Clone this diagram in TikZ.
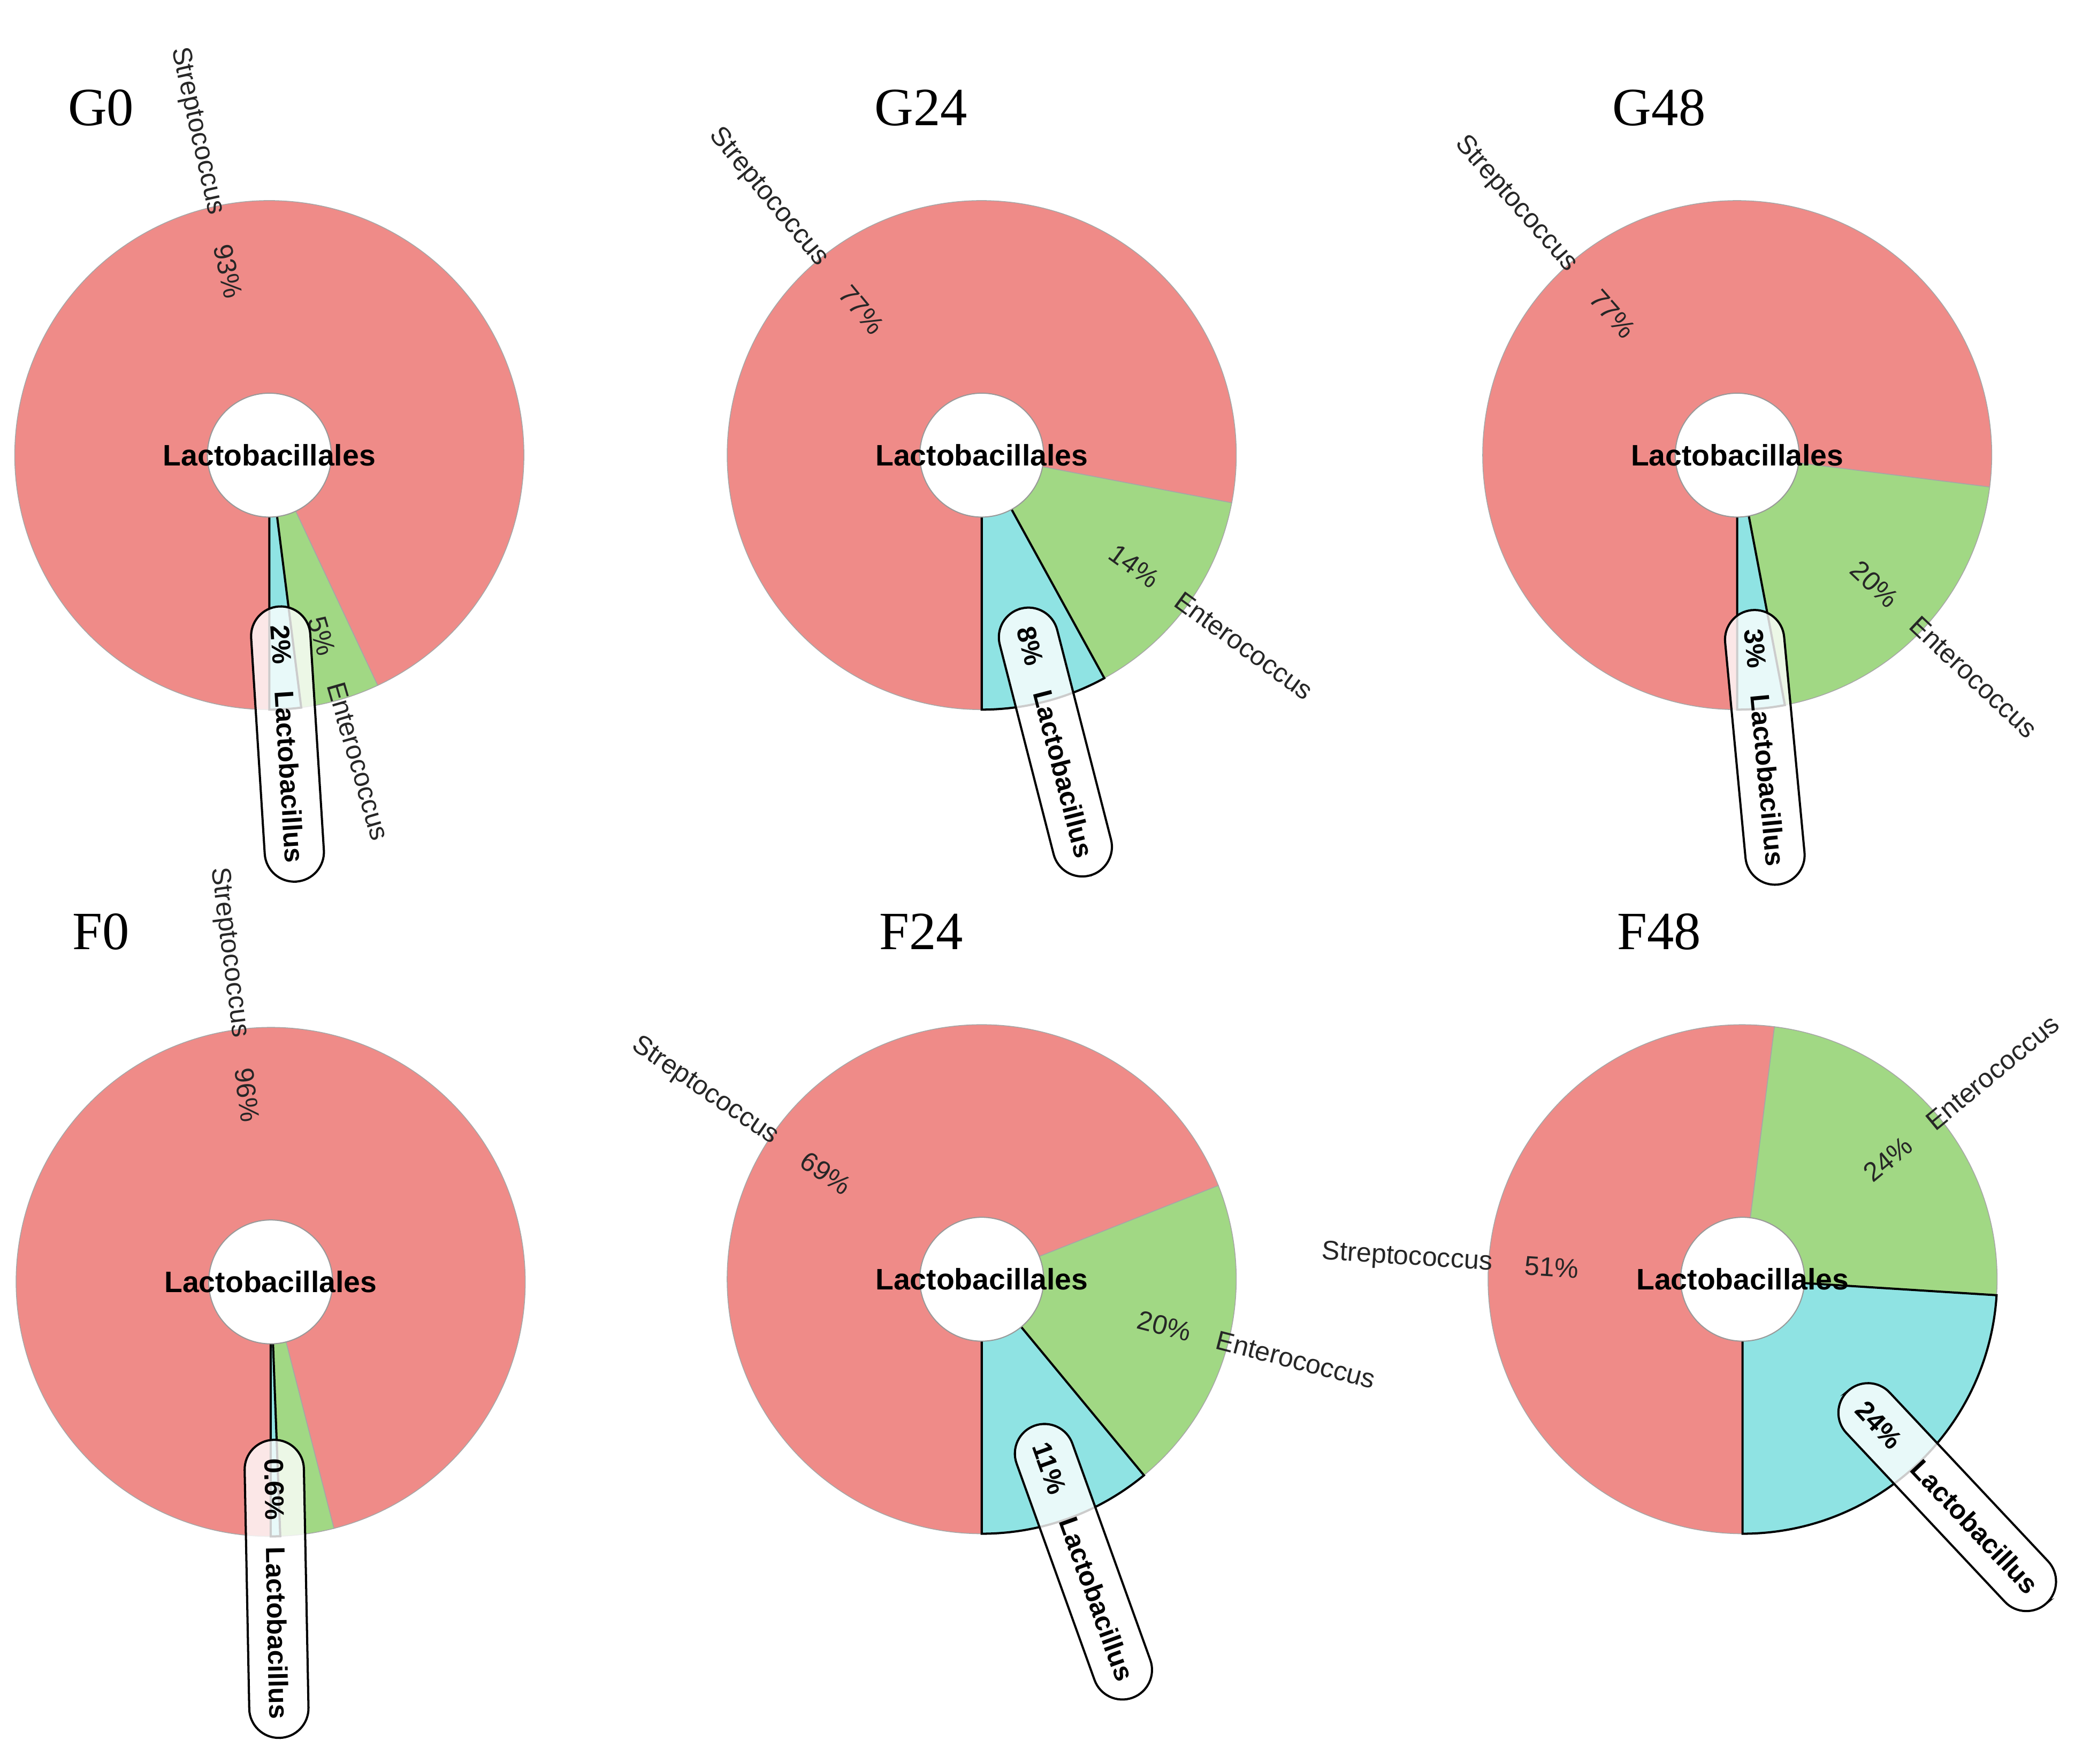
\documentclass[tikz,border=0pt]{standalone}
\usepackage{fontspec}
\setmainfont{Liberation Sans}
\newfontfamily\tms{Liberation Serif}
\usetikzlibrary{calc}
\definecolor{strep}{HTML}{EF8B88}
\definecolor{ente}{HTML}{A1D884}
\definecolor{lacto}{HTML}{8FE3E3}
\tikzset{
 x=1pt,y=1pt,
 sl/.style={fill=#1,draw=gray!70,line width=0.6pt},
 cy/.style={fill=lacto,draw=black,line width=1.6pt},
 hole/.style={circle,fill=white,draw=gray!80,line width=0.8pt,minimum size=92pt,inner sep=0pt},
 ctr/.style={font=\fontsize{22}{24}\selectfont\bfseries},
 lab/.style={font=\fontsize{20}{22}\selectfont,text=black!85,inner sep=0pt},
 box/.style={draw=black,line width=1.6pt,fill=white,fill opacity=0.8,text opacity=1,rounded corners=22pt,minimum height=44pt,inner xsep=14pt,font=\fontsize{20}{22}\selectfont\bfseries},
 ttl/.style={font=\fontsize{40}{44}\tms\selectfont}
}
\newcommand\mywedge[5]{\path[#5] (#1,#2) -- ++(#3:189) arc[start angle=#3,end angle=#4,radius=189] -- cycle;}
\newcommand\donut[5]{%
 \mywedge{#2}{#3}{#5}{270}{sl=strep}
 \mywedge{#2}{#3}{#4}{#5}{sl=ente}
 \mywedge{#2}{#3}{-90}{#4}{cy}
 \node[hole] (#1) at (#2,#3) {};
 \node[ctr] (#1c) at (#2,#3) {Lactobacillales};
}
\begin{document}
\begin{tikzpicture}
\useasboundingbox (0,0) rectangle (1552,1310);
% G0
\donut{g0}{200}{972}{-82.8}{-64.8}
\node[lab,rotate=-77.4] (g0p1) at ($(g0)+(102.6:140)$) {93\%};
\node[lab,rotate=-77.4,anchor=east] (g0n1) at ($(g0)+(102.6:183)$) {Streptococcus};
\node[lab,rotate=-73.8] (g0p2) at ($(g0)+(-73.8:140)$) {5\%};
\node[lab,rotate=-73.8,anchor=west] (g0n2) at ($(g0)+(-73.8:176)$) {Enterococcus};
\node[box,rotate=-86.4] (g0b) at ($(g0)+(-86.4:215)$) {2\%\quad Lactobacillus};
% G24
\donut{g24}{729}{972}{-61.2}{-10.8}
\node[lab,rotate=-50.4] (g24p1) at ($(g24)+(129.6:140)$) {77\%};
\node[lab,rotate=-50.4,anchor=east] (g24n1) at ($(g24)+(129.6:185)$) {Streptococcus};
\node[lab,rotate=-36] (g24p2) at ($(g24)+(-36:140)$) {14\%};
\node[lab,rotate=-36,anchor=west] (g24n2) at ($(g24)+(-36:180)$) {Enterococcus};
\node[box,rotate=-75.6] (g24b) at ($(g24)+(-75.6:220)$) {8\%\quad Lactobacillus};
% G48
\donut{g48}{1290}{972}{-79.2}{-7.2}
\node[lab,rotate=-48.6] (g48p1) at ($(g48)+(131.4:140)$) {77\%};
\node[lab,rotate=-48.6,anchor=east] (g48n1) at ($(g48)+(131.4:185)$) {Streptococcus};
\node[lab,rotate=-43.2] (g48p2) at ($(g48)+(-43.2:140)$) {20\%};
\node[lab,rotate=-43.2,anchor=west] (g48n2) at ($(g48)+(-43.2:180)$) {Enterococcus};
\node[box,rotate=-84.6] (g48b) at ($(g48)+(-84.6:218)$) {3\%\quad Lactobacillus};
% F0
\donut{f0}{201}{358}{-87.84}{-75.6}
\node[lab,rotate=-82.8] (f0p1) at ($(f0)+(97.2:140)$) {96\%};
\node[lab,rotate=-82.8,anchor=east] (f0n1) at ($(f0)+(97.2:183)$) {Streptococcus};
\node[box,rotate=-88.9] (f0b) at ($(f0)+(-88.9:228)$) {0.6\%\quad Lactobacillus};
% F24
\donut{f24}{729}{360}{-50.4}{21.6}
\node[lab,rotate=-34.2] (f24p1) at ($(f24)+(145.8:140)$) {69\%};
\node[lab,rotate=-34.2,anchor=east] (f24n1) at ($(f24)+(145.8:185)$) {Streptococcus};
\node[lab,rotate=-14.4] (f24p2) at ($(f24)+(-14.4:140)$) {20\%};
\node[lab,rotate=-14.4,anchor=west] (f24n2) at ($(f24)+(-14.4:180)$) {Enterococcus};
\node[box,rotate=-70.2] (f24b) at ($(f24)+(-70.2:223)$) {11\%\quad Lactobacillus};
% F48
\donut{f48}{1294}{360}{-3.6}{82.8}
\node[lab,rotate=-3.6] (f48p1) at ($(f48)+(176.4:142)$) {51\%};
\node[lab,rotate=-3.6,anchor=east] (f48n1) at ($(f48)+(176.4:186)$) {Streptococcus};
\node[lab,rotate=39.6] (f48p2) at ($(f48)+(39.6:140)$) {24\%};
\node[lab,rotate=39.6,anchor=west] (f48n2) at ($(f48)+(39.6:180)$) {Enterococcus};
\node[box,rotate=-46.8] (f48b) at ($(f48)+(-46.8:222)$) {24\%\quad Lactobacillus};
% titles
\node[ttl] (t1) at (75,1230) {G0};
\node[ttl] (t2) at (684,1230) {G24};
\node[ttl] (t3) at (1232,1230) {G48};
\node[ttl] (t4) at (75,618) {F0};
\node[ttl] (t5) at (684,618) {F24};
\node[ttl] (t6) at (1232,618) {F48};
\end{tikzpicture}
\end{document}
